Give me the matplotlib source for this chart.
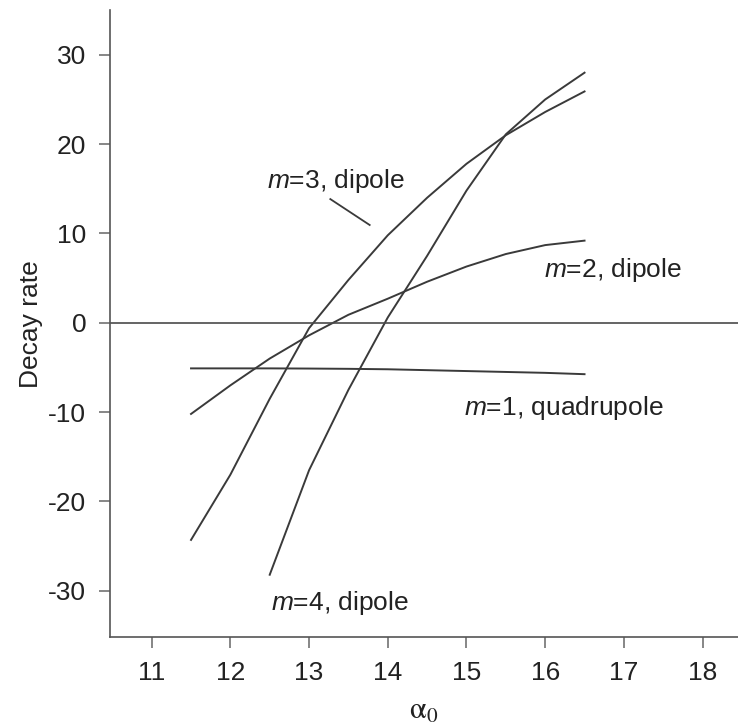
import numpy as np
import matplotlib.pyplot as plt

plt.rcParams['font.family'] = ['Liberation Sans', 'DejaVu Sans']
plt.rcParams['mathtext.fontset'] = 'custom'
plt.rcParams['mathtext.it'] = 'Liberation Sans:italic'
plt.rcParams['mathtext.rm'] = 'Liberation Sans'
plt.rcParams['axes.unicode_minus'] = False

# values
alpha_full = [11.5, 12.0, 12.5, 13.0, 13.5, 14.0, 14.5, 15.0, 15.5, 16.0, 16.5]
m1_quad = [-5.1, -5.1, -5.1, -5.12, -5.15, -5.2, -5.3, -5.4, -5.5, -5.6, -5.75]
m2_dip = [-10.2, -7.0, -4.0, -1.4, 0.9, 2.7, 4.6, 6.3, 7.7, 8.7, 9.2]
m3_dip = [-24.3, -17.0, -8.5, -0.6, 4.8, 9.8, 14.0, 17.8, 21.0, 23.6, 25.9]
alpha_m4 = [12.5, 13.0, 13.5, 14.0, 14.5, 15.0, 15.5, 16.0, 16.5]
m4_dip = [-28.2, -16.5, -7.5, 0.6, 7.5, 14.8, 21.1, 25.0, 28.0]

xticks = [11, 12, 13, 14, 15, 16, 17, 18]
yticks = [-30, -20, -10, 0, 10, 20, 30]

fig = plt.figure(figsize=(7.38, 7.25), dpi=100)
ax = fig.add_axes([0.149, 0.121, 0.851, 0.865])

line_kw = dict(color='#3a3a3a', lw=1.4)
ax.plot(alpha_full, m1_quad, **line_kw)
ax.plot(alpha_full, m2_dip, **line_kw)
ax.plot(alpha_full, m3_dip, **line_kw)
ax.plot(alpha_m4, m4_dip, **line_kw)
ax.axhline(0, color='#4a4a4a', lw=1.2)

fs = 19
ax.text(12.47, 15.9, r'$m$=3, dipole', fontsize=fs, va='center', ha='left', color='#222222')
ax.plot([13.27, 13.77], [13.85, 10.95], color='#3a3a3a', lw=1.3)
ax.text(15.99, 5.9, r'$m$=2, dipole', fontsize=fs, va='center', ha='left', color='#222222')
ax.text(14.97, -9.5, r'$m$=1, quadrupole', fontsize=fs, va='center', ha='left', color='#222222')
ax.text(12.52, -31.4, r'$m$=4, dipole', fontsize=fs, va='center', ha='left', color='#222222')

ax.set_xlim(10.47, 18.45)
ax.set_ylim(-35.2, 35)
ax.set_xticks(xticks)
ax.set_yticks(yticks)
ax.spines['top'].set_visible(False)
ax.spines['right'].set_visible(False)
for s in ['left', 'bottom']:
    ax.spines[s].set_color('#555555')
    ax.spines[s].set_linewidth(1.2)
ax.tick_params(direction='out', length=8, width=1.1, color='#666666',
               labelsize=fs, pad=9, labelcolor='#222222')

ax.set_ylabel('Decay rate', fontsize=fs, labelpad=4, color='#222222')
ax.set_xlabel(r'$\mathrm{\alpha}_0$', fontsize=22, labelpad=8,
              math_fontfamily='stix', color='#222222')

plt.savefig('out.png')
